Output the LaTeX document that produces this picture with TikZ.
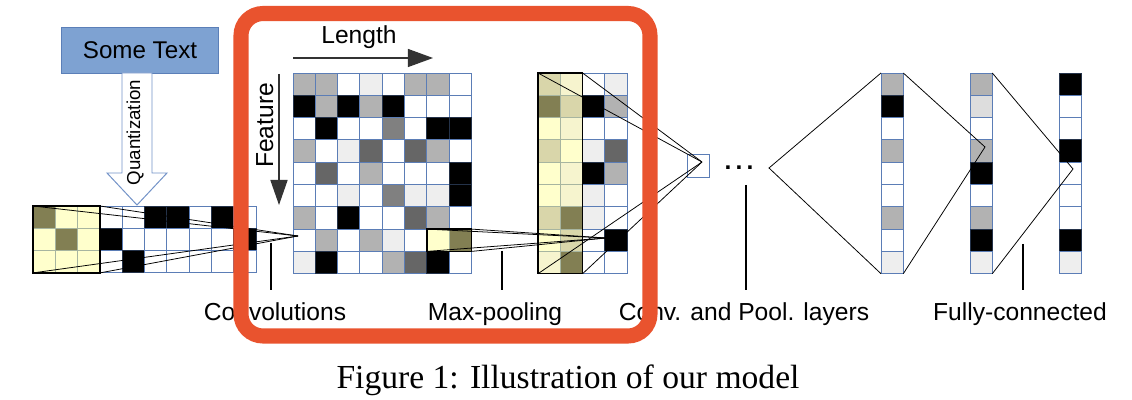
\documentclass[tikz,border=0pt]{standalone}
\usepackage{fontspec}
\setmainfont{Liberation Serif}
\newfontfamily\labelfont{Liberation Sans}
\usetikzlibrary{arrows.meta,positioning}

\definecolor{gridblue}{HTML}{5B7DB6}
\definecolor{gridgreen}{HTML}{A7B5A0}
\definecolor{textbox}{HTML}{7EA2D2}
\definecolor{textboxline}{HTML}{5B7FB8}
\definecolor{quantline}{HTML}{7393C8}
\definecolor{frameorange}{HTML}{E9532E}
% cell fills
\definecolor{cW}{HTML}{FFFFFF}
\definecolor{cL}{HTML}{EEEEEE}
\definecolor{cS}{HTML}{DDDDDD}
\definecolor{cG}{HTML}{B2B2B2}
\definecolor{cM}{HTML}{808080}
\definecolor{cD}{HTML}{666666}
\definecolor{cK}{HTML}{000000}
\definecolor{cY}{HTML}{FFFFCC}
\definecolor{cP}{HTML}{F6F4CE}
\definecolor{cT}{HTML}{D9D6AA}
\definecolor{cO}{HTML}{827F53}
% cell borders
\colorlet{eW}{gridblue}\colorlet{eL}{gridblue}\colorlet{eS}{gridblue}
\colorlet{eG}{gridblue}\colorlet{eM}{gridblue}\colorlet{eD}{gridblue}
\colorlet{eK}{gridblue!40!black}
\colorlet{eY}{gridgreen}\colorlet{eP}{gridgreen}
\colorlet{eT}{gridgreen}\colorlet{eO}{gridgreen}

\tikzset{
  cell/.style={minimum size=0.5575cm, inner sep=0pt, outer sep=0pt, line width=0.6pt},
  rfbox/.style={draw=black, line width=1.1pt},
  fan/.style={draw=black, line width=0.55pt},
  tagline/.style={draw=black, line width=0.9pt},
  tag/.style={font=\labelfont\fontsize{17.5}{21}\selectfont},
  layername/.style={tag, anchor=north, inner ysep=8.7pt},
}

% #1 name, #2 left x, #3 top y, #4 rows of cell colours
\newcommand{\cellgrid}[4]{%
  \foreach \row [count=\r from 0] in {#4} {
    \foreach \c [count=\k from 0] in \row {
      \node[cell, fill=c\c, draw=e\c] (#1-\r-\k) at ({#2+(\k+0.5)*22.3},{#3+(\r+0.5)*22.3}) {};
    }
  }%
}

\begin{document}
\begin{tikzpicture}[x=0.025cm, y=-0.025cm, >=Latex]
\useasboundingbox (0,0) rectangle (1132,400);

% text and quantization
\node[draw=textboxline, fill=textbox, line width=0.7pt, minimum width=3.9cm, minimum height=1.125cm,
      font=\labelfont\fontsize{17.2}{20}\selectfont] (st) at (140,50.5) {Some Text};
\draw[draw=quantline, fill=white, line width=0.7pt]
  (122,73) -- (152,73) -- (152,173) -- (167,173) -- (137,205) -- (107,173) -- (122,173) -- cycle;
\node[rotate=90, anchor=base, font=\labelfont\fontsize{13.3}{15}\selectfont] (qt) at (140,132.5) {Quantization};

% input, convolution and pooling maps
\cellgrid{in}{33}{206}{{O,Y,Y,W,W,K,K,W,K,W},{Y,O,Y,K,W,W,W,W,W,K},{Y,Y,Y,W,K,W,W,W,W,W}}
\cellgrid{cv}{293}{73}{{G,G,W,L,W,G,G,W},{K,G,K,G,K,W,W,W},{W,K,W,W,M,W,K,K},
  {G,W,L,D,W,D,G,W},{W,D,W,G,W,W,W,K},{W,W,L,W,M,L,L,K},
  {G,W,K,W,W,D,G,W},{W,G,W,G,L,W,Y,O},{L,K,W,W,G,D,K,W}}
\cellgrid{pl}{538}{73}{{T,P,W,L},{O,T,K,G},{Y,P,W,W},{T,Y,L,D},{Y,P,K,G},
  {Y,P,L,W},{T,O,L,W},{Y,T,W,K},{P,O,W,W}}
\node[cell, fill=white, draw=gridblue] (sm) at (698.5,166) {};

% fully connected vectors
\cellgrid{va}{881}{73}{G,K,W,G,W,W,G,W,L}
\cellgrid{vb}{970}{73}{G,S,W,G,K,W,G,K,L}
\cellgrid{vc}{1059}{73}{K,W,W,K,W,W,W,K,L}

% receptive fields
\draw[rfbox] (in-0-0.north west) rectangle (in-2-2.south east);
\draw[rfbox] (cv-7-6.north west) rectangle (cv-7-7.south east);
\draw[rfbox] (pl-0-0.north west) rectangle (pl-8-1.south east);

\coordinate (f1) at (298,236);
\coordinate (f2) at (606,238);
\coordinate (f3) at (702,162);
\coordinate (f4) at (769,168);
\coordinate (f5) at (985,147);
\coordinate (f6) at (1073,169);
\foreach \a in {in-0-0.north west, in-0-2.north east, in-2-0.south west, in-2-2.south east}
  \draw[fan] (\a) -- (f1);
\foreach \a in {cv-7-6.north west, cv-7-7.north east, cv-7-6.south west, cv-7-7.south east}
  \draw[fan] (\a) -- (f2);
\foreach \a in {pl-0-0.north west, pl-0-1.north east, pl-8-0.south west, pl-8-1.south east}
  \draw[fan] (\a) -- (f3);
\draw[fan] (va-0-0.north west) -- (f4) -- (va-8-0.south west);
\draw[fan] (va-0-0.north east) -- (f5) -- (va-8-0.south east);
\draw[fan] (vb-0-0.north east) -- (f6) -- (vb-8-0.south east);

\node[anchor=base, font=\labelfont\bfseries\fontsize{17.5}{21}\selectfont] (dots) at (739,170) {.\hspace{3pt}.\hspace{3pt}.};

% axes
\coordinate (len-s) at (293,58);
\coordinate (len-e) at (433,58);
\draw[black!80, line width=0.8pt, -{Triangle[length=17.8pt, width=12.8pt]}] (len-s) -- (len-e);
\node[tag, anchor=base] (len) at (359,44) {Length};
\coordinate (feat-s) at (279,74);
\coordinate (feat-e) at (279,205);
\draw[black!80, line width=0.8pt, -{Triangle[length=17.8pt, width=12.2pt]}] (feat-s) -- (feat-e);
\node[tag, anchor=base, rotate=90] (feat) at (273,125.5) {Feature};

% layer names
\coordinate (t1) at (271,243);
\coordinate (t2) at (502,251);
\coordinate (t3) at (746,185);
\coordinate (t4) at (1023,244);
\node[layername] (lab1) at (275,290) {Convolutions};
\node[layername] (lab2) at (495,290) {Max-pooling};
\node[layername] (lab3) at (744,290) {Conv. and Pool. layers};
\node[layername] (lab4) at (1020,290) {Fully-connected};
\draw[tagline] (t1) -- (t1 |- lab1.north);
\draw[tagline] (t2) -- (t2 |- lab2.north);
\draw[tagline] (t3) -- (t3 |- lab3.north);
\draw[tagline] (t4) -- (t4 |- lab4.north);

\node[anchor=base, font=\fontsize{23.9}{28}\selectfont] (cap) at (568,388) {Figure 1: Illustration of our model};

% highlight frame
\draw[frameorange, line width=10.7pt, rounded corners=0.55cm] (241,13.5) rectangle (650,336);
\end{tikzpicture}
\end{document}
